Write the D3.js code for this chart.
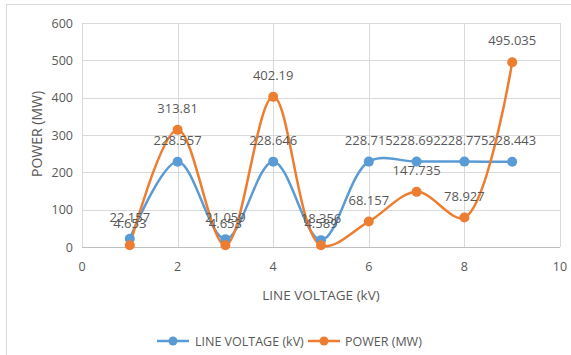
<!DOCTYPE html>
<html><head><meta charset="utf-8">
<script src="https://cdn.jsdelivr.net/npm/d3@7"></script>
<style>
html,body{margin:0;padding:0;background:#fff;}
text{font-family:"Open Sans","Noto Sans",sans-serif;fill:#595959;}
</style>
</head><body>
<svg id="c" width="571" height="355"></svg>
<script>
const xValues = [1,2,3,4,5,6,7,8,9];
const lineVoltage = [22.157,228.557,21.059,228.646,18.356,228.715,228.692,228.775,228.443];
const power = [4.653,313.81,4.653,402.19,4.589,68.157,147.735,78.927,495.035];
const xTicks = [0,2,4,6,8,10];
const yTicks = [0,100,200,300,400,500,600];
const seriesNames = ["LINE VOLTAGE (kV)","POWER (MW)"];
const colors = ["#5B9BD5","#ED7D31"];

const svg = d3.select("#c");
svg.append("rect").attr("x",6.5).attr("y",4.5).attr("width",570).attr("height",360)
  .attr("fill","#fff").attr("stroke","#d9d9d9").attr("stroke-width",1);

const x = d3.scaleLinear().domain([0,10]).range([82,560]);
const y = d3.scaleLinear().domain([0,600]).range([247,23]);

// gridlines
const g = svg.append("g");
g.selectAll(".hg").data(yTicks).enter().append("line")
  .attr("x1",x(0)).attr("x2",x(10)).attr("y1",d=>Math.round(y(d))+0.5).attr("y2",d=>Math.round(y(d))+0.5)
  .attr("stroke",d=>d===0?"#bfbfbf":"#d9d9d9").attr("stroke-width",1);
g.selectAll(".vg").data(xTicks).enter().append("line")
  .attr("x1",d=>Math.round(x(d))+0.5).attr("x2",d=>Math.round(x(d))+0.5).attr("y1",y(600)).attr("y2",y(0))
  .attr("stroke","#d9d9d9").attr("stroke-width",1);

// tick labels
svg.selectAll(".yl").data(yTicks).enter().append("text")
  .attr("x",73).attr("y",d=>y(d)+4.5).attr("text-anchor","end").attr("font-size",12.5).text(d=>d);
svg.selectAll(".xl").data(xTicks).enter().append("text")
  .attr("x",d=>x(d)).attr("y",271).attr("text-anchor","middle").attr("font-size",12.5).text(d=>d);

// axis titles
svg.append("text").attr("x",x(5)).attr("y",300).attr("text-anchor","middle").attr("font-size",13.5)
  .text("LINE VOLTAGE (kV)");
svg.append("text").attr("transform","translate(42,134) rotate(-90)").attr("text-anchor","middle")
  .attr("font-size",14).text("POWER (MW)");

const line = d3.line().x((d,i)=>x(xValues[i])).y(d=>y(d)).curve(d3.curveCatmullRom.alpha(0.5));
[lineVoltage,power].forEach((arr,k)=>{
  svg.append("path").attr("d",line(arr)).attr("fill","none").attr("stroke",colors[k]).attr("stroke-width",2.5);
});
[lineVoltage,power].forEach((arr,k)=>{
  svg.selectAll(".m"+k).data(arr).enter().append("circle")
    .attr("cx",(d,i)=>x(xValues[i])).attr("cy",d=>y(d)).attr("r",5).attr("fill",colors[k]);
});
[lineVoltage,power].forEach((arr,k)=>{
  svg.selectAll(".l"+k).data(arr).enter().append("text")
    .attr("x",(d,i)=>x(xValues[i])).attr("y",d=>y(d)-17).attr("text-anchor","middle").attr("font-size",13)
    .text(d=>d);
});

// legend
const leg = [{x0:157,tx:195},{x0:308,tx:345}];
leg.forEach((l,k)=>{
  svg.append("line").attr("x1",l.x0).attr("x2",l.x0+32).attr("y1",341).attr("y2",341)
    .attr("stroke",colors[k]).attr("stroke-width",2.5);
  svg.append("circle").attr("cx",l.x0+16).attr("cy",341).attr("r",4.5).attr("fill",colors[k]);
  svg.append("text").attr("x",l.tx).attr("y",345.5).attr("font-size",12.5).text(seriesNames[k]);
});
</script>
</body></html>
